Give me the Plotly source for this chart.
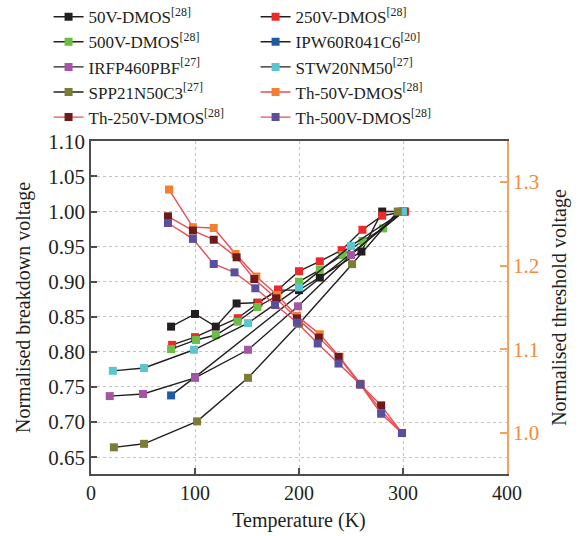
import plotly.graph_objects as go

# ---- breakdown voltage data (left axis) ----
t_50v = [77, 100, 120, 140, 160, 180, 200, 220, 260, 280, 300]
bv_50v = [0.836, 0.854, 0.836, 0.869, 0.870, 0.888, 0.888, 0.906, 0.943, 1.0, 1.0]

t_250v = [78, 100, 141, 161, 180, 200, 220, 241, 261, 280, 302]
bv_250v = [0.810, 0.821, 0.848, 0.870, 0.889, 0.915, 0.929, 0.945, 0.974, 0.994, 1.0]

t_500v = [77, 101, 120, 141, 160, 179, 200, 220, 242, 261, 281, 300]
bv_500v = [0.804, 0.817, 0.824, 0.843, 0.864, 0.880, 0.900, 0.917, 0.938, 0.958, 0.976, 1.0]

t_ipw = [77, 100, 301]
bv_ipw = [0.738, 0.764, 1.0]

t_irfp = [18, 50, 100, 151, 199, 250, 298]
bv_irfp = [0.737, 0.740, 0.763, 0.803, 0.865, 0.938, 1.0]

t_stw = [21, 51, 99, 151, 200, 250, 300]
bv_stw = [0.773, 0.777, 0.803, 0.841, 0.892, 0.951, 1.0]

t_spp = [22, 51, 102, 151, 200, 251, 295]
bv_spp = [0.664, 0.669, 0.701, 0.763, 0.840, 0.925, 1.0]

# ---- threshold voltage data (right axis) ----
t_th50 = [75, 98, 118, 139, 159, 179, 198, 220, 239, 259, 279, 299]
vth_50v = [1.291, 1.246, 1.245, 1.214, 1.187, 1.165, 1.140, 1.118, 1.091, 1.059, 1.027, 1.0]

t_th250 = [74, 98, 118, 140, 157, 178, 198, 219, 238, 259, 279, 299]
vth_250v = [1.259, 1.242, 1.231, 1.210, 1.184, 1.161, 1.137, 1.114, 1.091, 1.058, 1.033, 1.0]

t_th500 = [74, 98, 118, 138, 158, 177, 198, 218, 238, 259, 279, 299]
vth_500v = [1.251, 1.232, 1.202, 1.192, 1.173, 1.153, 1.132, 1.107, 1.083, 1.058, 1.023, 1.0]

x_ticks = [0, 100, 200, 300, 400]
y_ticks = [0.65, 0.70, 0.75, 0.80, 0.85, 0.90, 0.95, 1.00, 1.05, 1.10]
y2_ticks = [1.0, 1.1, 1.2, 1.3]

FONT = "Liberation Serif"
DARK = "#231f20"
TH_LINE = "#ea4e53"
ORANGE = "#f58a3c"

series = [
    ("50V-DMOS<sup>[28]</sup>", t_50v, bv_50v, "#231f20", DARK, "y"),
    ("250V-DMOS<sup>[28]</sup>", t_250v, bv_250v, "#ed2a2b", DARK, "y"),
    ("500V-DMOS<sup>[28]</sup>", t_500v, bv_500v, "#6abd45", DARK, "y"),
    ("IPW60R041C6<sup>[20]</sup>", t_ipw, bv_ipw, "#1f5aa6", DARK, "y"),
    ("IRFP460PBF<sup>[27]</sup>", t_irfp, bv_irfp, "#a356a5", DARK, "y"),
    ("STW20NM50<sup>[27]</sup>", t_stw, bv_stw, "#5bc5d0", DARK, "y"),
    ("SPP21N50C3<sup>[27]</sup>", t_spp, bv_spp, "#7b7c35", DARK, "y"),
    ("Th-50V-DMOS<sup>[28]</sup>", t_th50, vth_50v, "#f47f31", TH_LINE, "y2"),
    ("Th-250V-DMOS<sup>[28]</sup>", t_th250, vth_250v, "#6d1a1d", TH_LINE, "y2"),
    ("Th-500V-DMOS<sup>[28]</sup>", t_th500, vth_500v, "#5a4e9f", TH_LINE, "y2"),
]

fig = go.Figure()
for name, xs, ys, mcol, lcol, axis in series:
    fig.add_trace(go.Scatter(
        x=xs, y=ys, name=name, yaxis=axis, mode="lines+markers",
        line=dict(color=lcol, width=1.4),
        marker=dict(symbol="square", size=8, color=mcol, line=dict(width=0)),
    ))

fig.update_layout(
    width=583, height=536, autosize=False,
    margin=dict(l=91, r=76, t=141, b=62, autoexpand=False),
    paper_bgcolor="white", plot_bgcolor="white",
    font=dict(family=FONT, size=20, color=DARK),
    showlegend=True,
    legend=dict(
        orientation="h", x=-0.102, y=1.426, xanchor="left", yanchor="top",
        entrywidth=162, entrywidthmode="pixels",
        font=dict(family=FONT, size=17, color=DARK),
        bgcolor="rgba(0,0,0,0)", traceorder="normal",
    ),
    xaxis=dict(
        range=[0, 400], tickvals=x_ticks, ticks="inside", ticklen=6,
        tickcolor="#4d4d4d", tickwidth=1.5,
        showline=True, linecolor="#4d4d4d", linewidth=1.5, mirror=True,
        showgrid=True, gridcolor="#c4c4c4", griddash="dot", gridwidth=1,
        zeroline=False,
        title=dict(text="Temperature (K)", font=dict(size=20), standoff=10),
        tickfont=dict(size=20),
    ),
    yaxis=dict(
        range=[0.626, 1.1005], tickvals=y_ticks, tickformat=".2f",
        ticks="inside", ticklen=6, tickcolor="#4d4d4d", tickwidth=1.5,
        showline=True, linecolor="#4d4d4d", linewidth=1.5,
        showgrid=True, gridcolor="#c4c4c4", griddash="dot", gridwidth=1,
        zeroline=False,
        title=dict(text="Normalised breakdown voltage", font=dict(size=20), standoff=12),
        tickfont=dict(size=21),
    ),
    yaxis2=dict(
        overlaying="y", side="right", range=[0.951, 1.349], tickvals=y2_ticks,
        tickformat=".1f", ticks="inside", ticklen=7, tickcolor="#f5a060", tickwidth=1.5,
        showline=True, linecolor="#f5a060", linewidth=1.8,
        showgrid=False, zeroline=False,
        tickfont=dict(size=21, color=ORANGE),
        title=dict(text="Normalised threshold voltage", font=dict(size=20, color=DARK), standoff=14),
    ),
)

fig.write_html("out.html")
